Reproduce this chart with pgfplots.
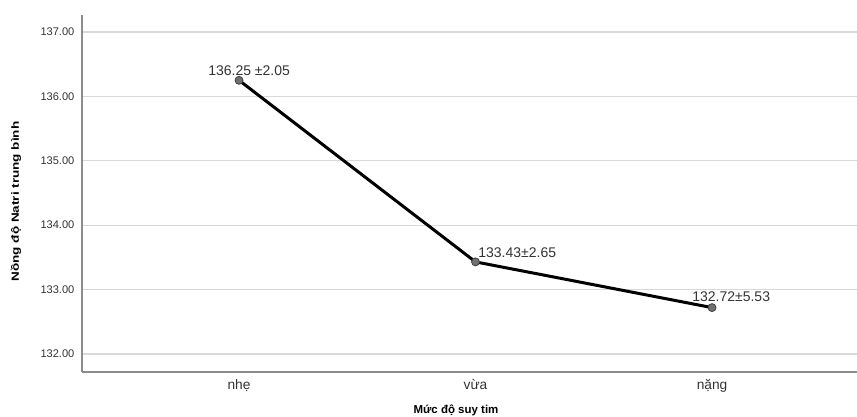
\documentclass[border=0pt]{standalone}
\usepackage{pgfplots}
\pgfplotsset{compat=1.18}
\usepackage{fontspec}
\setmainfont{Liberation Sans}
\definecolor{gridc}{HTML}{D9D9D9}
\definecolor{axc}{HTML}{8C8C8C}
\definecolor{txt}{HTML}{333333}
\definecolor{mfill}{HTML}{707070}
\definecolor{medge}{HTML}{404040}
\begin{document}
\begin{tikzpicture}
\begin{axis}[
  scale only axis,
  width=581.25pt, height=267.75pt,
  xmin=-0.664, xmax=2.613,
  ymin=131.72, ymax=137.264,
  axis x line*=bottom, axis y line*=left,
  axis line style={axc, line width=0.9pt, -},
  xtick={0,1,2}, xticklabels={nhẹ,vừa,nặng},
  ytick={132,133,134,135,136,137},
  yticklabel={\pgfmathprintnumber[fixed,fixed zerofill,precision=2]{\tick}},
  /pgf/number format/assume math mode=true,
  major tick length=0pt,
  ymajorgrids,
  grid style={gridc, line width=0.8pt},
  y tick label style={font=\fontsize{8.3}{10}\selectfont, text=txt, xshift=-2.2pt},
  x tick label style={font=\fontsize{10.3}{12}\selectfont, text=txt, yshift=-2pt},
  xlabel={\textbf{Mức độ suy tim}},
  xlabel style={font=\fontsize{8.6}{10}\selectfont, at={(axis description cs:0.4826,-0.1176)}, anchor=base},
  ylabel={\scalebox{1.3}[1]{\textbf{Nồng độ Natri trung bình}}},
  ylabel style={font=\fontsize{7.8}{9}\selectfont, at={(axis description cs:-0.0852,0.4776)}, anchor=center, rotate=0},
  clip=false,
]
\addplot[black, line width=2.25pt, mark=*, mark size=3pt,
  mark options={fill=mfill, draw=medge, line width=0.6pt}]
  coordinates {(0,136.25) (1,133.43) (2,132.72)};
\node[anchor=base west, xshift=-23.25pt, yshift=3.75pt, font=\fontsize{10.5}{12}\selectfont, text=txt, inner sep=0pt] at (axis cs:0,136.25) {136.25 ±2.05};
\node[anchor=base west, xshift=1.9pt, yshift=3pt, font=\fontsize{10.5}{12}\selectfont, text=txt, inner sep=0pt] at (axis cs:1,133.43) {133.43±2.65};
\node[anchor=base west, xshift=-15pt, yshift=4.5pt, font=\fontsize{10.5}{12}\selectfont, text=txt, inner sep=0pt] at (axis cs:2,132.72) {132.72±5.53};
\end{axis}
\pgfresetboundingbox
\useasboundingbox ([xshift=-61.5pt,yshift=-33pt]current axis.south west) rectangle ([yshift=11.25pt]current axis.north east);
\end{tikzpicture}
\end{document}
